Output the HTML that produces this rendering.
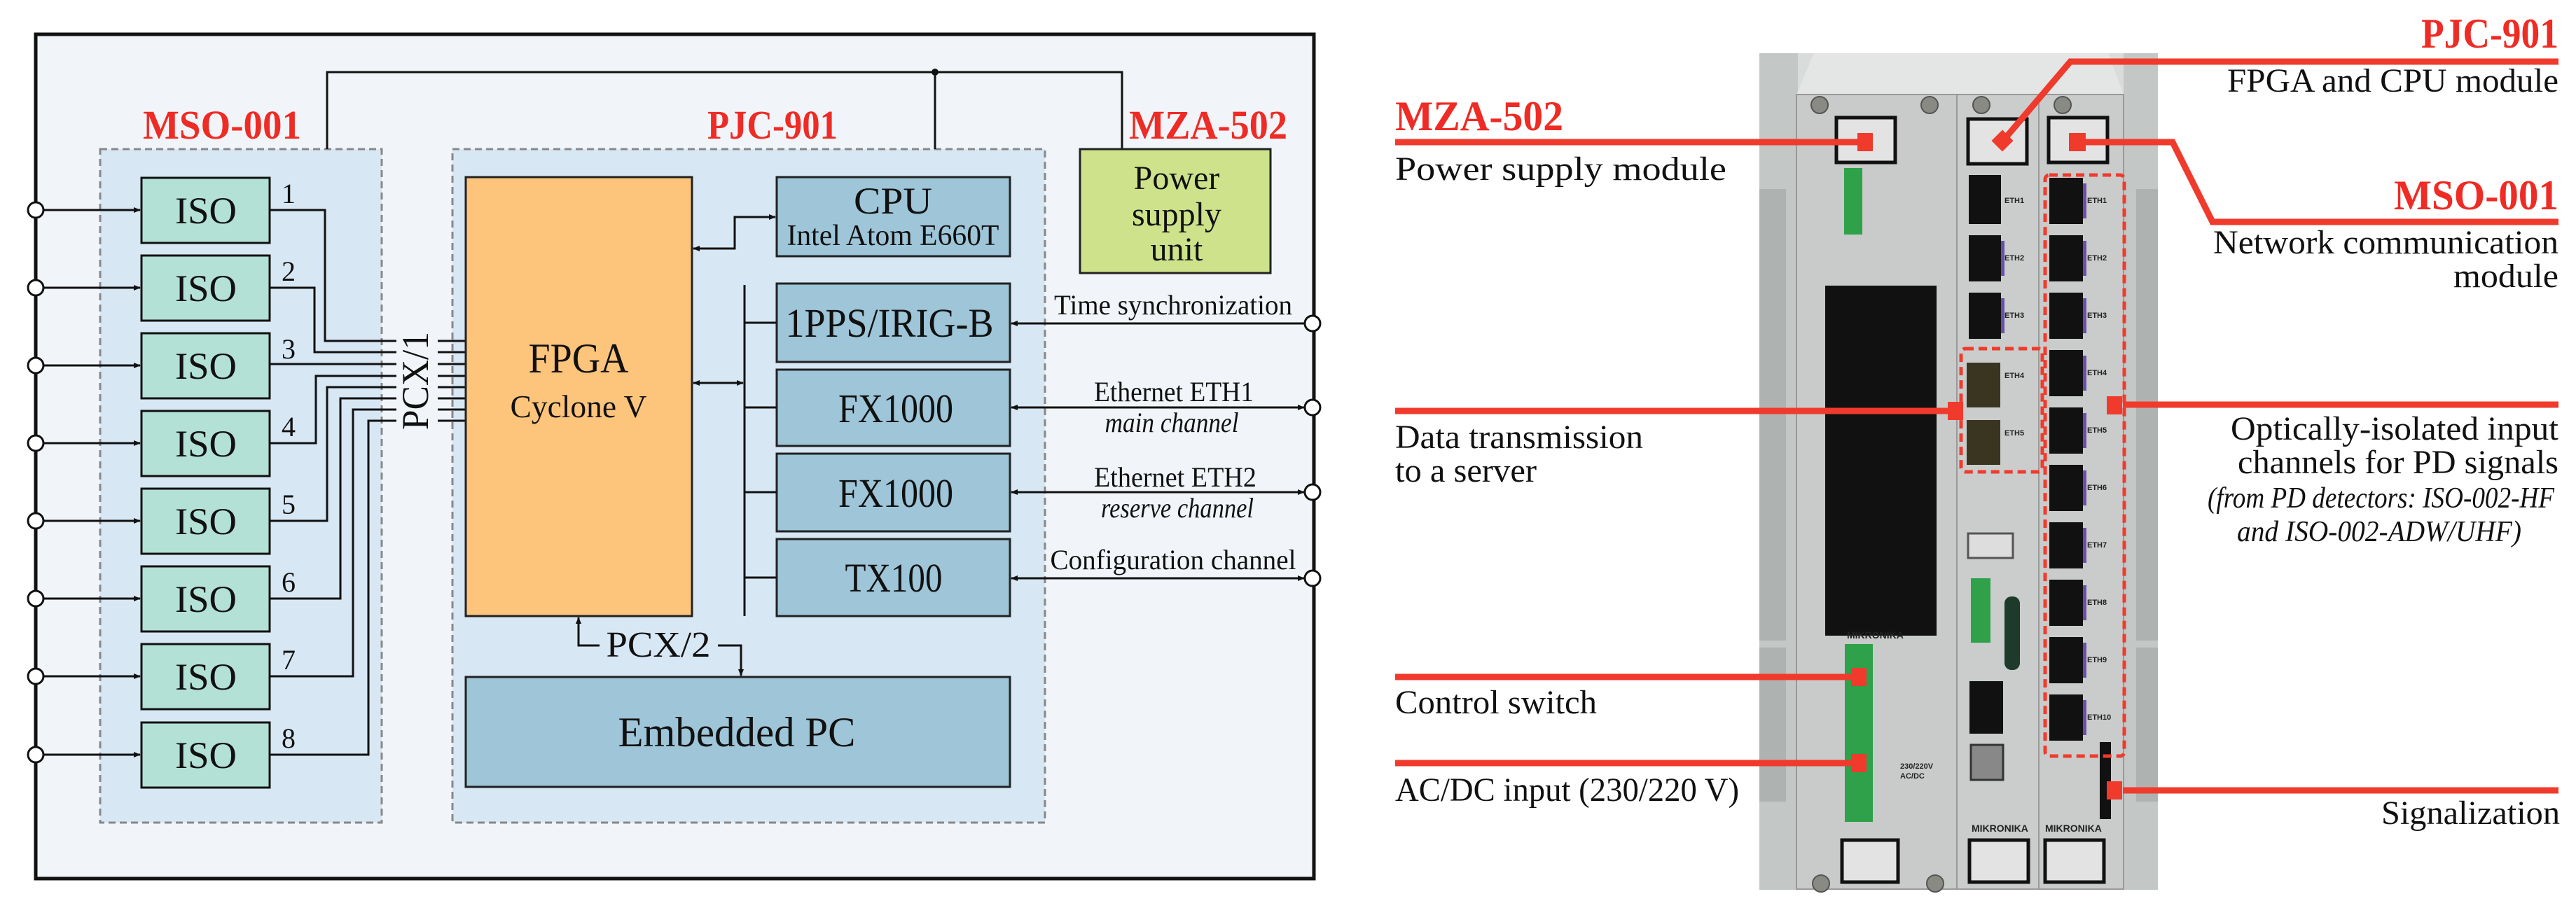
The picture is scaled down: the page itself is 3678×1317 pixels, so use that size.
<!DOCTYPE html>
<html><head><meta charset="utf-8"><style>
html,body{margin:0;padding:0;background:#fff;}
svg{display:block;}
text{font-family:"Liberation Serif",serif;fill:#111;}
.r{fill:#ee2b24;font-weight:bold;}
.s{font-family:"Liberation Sans",sans-serif;fill:#222;font-weight:bold;}
</style></head><body>
<svg width="3678" height="1317" viewBox="0 0 3678 1317" xmlns="http://www.w3.org/2000/svg">
<defs>
<marker id="a" markerWidth="10" markerHeight="8" refX="9" refY="4" orient="auto-start-reverse" markerUnits="userSpaceOnUse"><path d="M0,0 L10,4 L0,8 Z" fill="#111"/></marker>
<marker id="b" markerWidth="16" markerHeight="12" refX="15" refY="6" orient="auto-start-reverse" markerUnits="userSpaceOnUse"><path d="M0,0 L16,6 L0,12 Z" fill="#111"/></marker>
</defs>
<rect width="3678" height="1317" fill="#fff"/>
<!-- LEFT DIAGRAM -->
<rect x="51" y="49" width="1825" height="1206" fill="#f1f5f9" stroke="#111" stroke-width="5"/>
<rect x="143" y="213" width="402" height="962" fill="#d7e7f4" stroke="#888" stroke-width="3" stroke-dasharray="10,6"/>
<rect x="646" y="213" width="846" height="962" fill="#d7e7f4" stroke="#888" stroke-width="3" stroke-dasharray="10,6"/>
<g stroke="#111" stroke-width="3" fill="none">
<path d="M467,213 V103 H1602 V213"/><path d="M1335,103 V213"/>
</g>
<circle cx="1335" cy="103" r="5" fill="#111"/>
<rect x="1542" y="213" width="272" height="177" fill="#cde28a" stroke="#222" stroke-width="3"/>
<text x="1680" y="270" font-size="48" text-anchor="middle">Power</text>
<text x="1680" y="322" font-size="48" text-anchor="middle">supply</text>
<text x="1680" y="372" font-size="48" text-anchor="middle">unit</text>
<text class="r" x="317" y="198" font-size="58" text-anchor="middle" textLength="226" lengthAdjust="spacingAndGlyphs">MSO-001</text>
<text class="r" x="1103" y="198" font-size="58" text-anchor="middle" textLength="186" lengthAdjust="spacingAndGlyphs">PJC-901</text>
<text class="r" x="1725" y="198" font-size="58" text-anchor="middle" textLength="226" lengthAdjust="spacingAndGlyphs">MZA-502</text>
<!-- ISO rows -->
<g id="iso">
<g stroke="#111" stroke-width="3">
<rect x="202" y="254" width="183" height="93" fill="#b3e1d5"/>
<rect x="202" y="365" width="183" height="93" fill="#b3e1d5"/>
<rect x="202" y="476" width="183" height="93" fill="#b3e1d5"/>
<rect x="202" y="587" width="183" height="93" fill="#b3e1d5"/>
<rect x="202" y="698" width="183" height="93" fill="#b3e1d5"/>
<rect x="202" y="809" width="183" height="93" fill="#b3e1d5"/>
<rect x="202" y="920" width="183" height="93" fill="#b3e1d5"/>
<rect x="202" y="1032" width="183" height="93" fill="#b3e1d5"/>
</g>
<g font-size="54" text-anchor="middle">
<text x="294" y="319" textLength="88" lengthAdjust="spacingAndGlyphs">ISO</text>
<text x="294" y="430" textLength="88" lengthAdjust="spacingAndGlyphs">ISO</text>
<text x="294" y="541" textLength="88" lengthAdjust="spacingAndGlyphs">ISO</text>
<text x="294" y="652" textLength="88" lengthAdjust="spacingAndGlyphs">ISO</text>
<text x="294" y="763" textLength="88" lengthAdjust="spacingAndGlyphs">ISO</text>
<text x="294" y="874" textLength="88" lengthAdjust="spacingAndGlyphs">ISO</text>
<text x="294" y="985" textLength="88" lengthAdjust="spacingAndGlyphs">ISO</text>
<text x="294" y="1097" textLength="88" lengthAdjust="spacingAndGlyphs">ISO</text>
</g>
<g font-size="40">
<text x="402" y="290">1</text><text x="402" y="401">2</text><text x="402" y="512">3</text><text x="402" y="623">4</text>
<text x="402" y="734">5</text><text x="402" y="845">6</text><text x="402" y="956">7</text><text x="402" y="1068">8</text>
</g>
<g stroke="#111" stroke-width="3" marker-end="url(#a)">
<line x1="62" y1="300" x2="200" y2="300"/><line x1="62" y1="411" x2="200" y2="411"/>
<line x1="62" y1="522" x2="200" y2="522"/><line x1="62" y1="633" x2="200" y2="633"/>
<line x1="62" y1="744" x2="200" y2="744"/><line x1="62" y1="855" x2="200" y2="855"/>
<line x1="62" y1="966" x2="200" y2="966"/><line x1="62" y1="1078" x2="200" y2="1078"/>
</g>
<g fill="#fff" stroke="#111" stroke-width="3">
<circle cx="51" cy="300" r="11"/><circle cx="51" cy="411" r="11"/><circle cx="51" cy="522" r="11"/><circle cx="51" cy="633" r="11"/>
<circle cx="51" cy="744" r="11"/><circle cx="51" cy="855" r="11"/><circle cx="51" cy="966" r="11"/><circle cx="51" cy="1078" r="11"/>
</g>
</g>
<!-- wires -->
<g stroke="#111" stroke-width="3" fill="none">
<path d="M385,300 H464 V487 H566"/>
<path d="M385,411 H449 V503 H566"/>
<path d="M385,520 H566"/>
<path d="M385,633 H451 V537 H566"/>
<path d="M385,744 H467 V553 H566"/>
<path d="M385,855 H486 V569 H566"/>
<path d="M385,966 H504 V585 H566"/>
<path d="M385,1078 H526 V601 H566"/>
<path d="M625,487 H665 M625,503 H665 M625,520 H665 M625,537 H665 M625,553 H665 M625,569 H665 M625,585 H665 M625,601 H665"/>
</g>
<text transform="translate(611,544) rotate(-90)" font-size="54" text-anchor="middle" textLength="140" lengthAdjust="spacingAndGlyphs">PCX/1</text>
<!-- FPGA & blocks -->
<rect x="665" y="253" width="323" height="627" fill="#fdc47c" stroke="#222" stroke-width="3"/>
<text x="826" y="532" font-size="60" text-anchor="middle" textLength="143" lengthAdjust="spacingAndGlyphs">FPGA</text>
<text x="826" y="596" font-size="46" text-anchor="middle" textLength="195" lengthAdjust="spacingAndGlyphs">Cyclone V</text>
<g fill="#9ec5d8" stroke="#222" stroke-width="3">
<rect x="1109" y="253" width="333" height="113"/>
<rect x="1109" y="405" width="333" height="112"/>
<rect x="1109" y="528" width="333" height="109"/>
<rect x="1109" y="648" width="333" height="111"/>
<rect x="1109" y="770" width="333" height="110"/>
<rect x="665" y="967" width="777" height="157"/>
</g>
<text x="1275" y="305" font-size="54" text-anchor="middle" textLength="112" lengthAdjust="spacingAndGlyphs">CPU</text>
<text x="1275" y="350" font-size="42" text-anchor="middle" textLength="303" lengthAdjust="spacingAndGlyphs">Intel Atom E660T</text>
<text x="1270" y="481" font-size="58" text-anchor="middle" textLength="297" lengthAdjust="spacingAndGlyphs">1PPS/IRIG-B</text>
<text x="1279" y="603" font-size="58" text-anchor="middle" textLength="164" lengthAdjust="spacingAndGlyphs">FX1000</text>
<text x="1279" y="724" font-size="58" text-anchor="middle" textLength="164" lengthAdjust="spacingAndGlyphs">FX1000</text>
<text x="1276" y="845" font-size="58" text-anchor="middle" textLength="139" lengthAdjust="spacingAndGlyphs">TX100</text>
<text x="1052" y="1066" font-size="60" text-anchor="middle" textLength="339" lengthAdjust="spacingAndGlyphs">Embedded PC</text>
<g stroke="#111" stroke-width="3" fill="none">
<path d="M1063,407 V880"/>
<path d="M1063,461 H1109 M1063,582 H1109 M1063,703 H1109 M1063,825 H1109"/>
<path d="M990,355 H1049 V310 H1107" marker-start="url(#a)" marker-end="url(#a)"/>
<path d="M990,547 H1061" marker-start="url(#a)" marker-end="url(#a)"/>
<path d="M856,922 H826 V882" marker-end="url(#a)"/>
<path d="M1025,922 H1058 V965" marker-end="url(#a)"/>
<path d="M1444,462 H1862" marker-start="url(#a)"/>
<path d="M1444,582 H1862" marker-start="url(#a)" marker-end="url(#a)"/>
<path d="M1444,703 H1862" marker-start="url(#a)" marker-end="url(#a)"/>
<path d="M1444,826 H1862" marker-start="url(#a)" marker-end="url(#a)"/>
</g>
<text x="940" y="938" font-size="52" text-anchor="middle" textLength="149" lengthAdjust="spacingAndGlyphs">PCX/2</text>
<g fill="#fff" stroke="#111" stroke-width="3">
<circle cx="1874" cy="462" r="11"/><circle cx="1874" cy="582" r="11"/><circle cx="1874" cy="703" r="11"/><circle cx="1874" cy="826" r="11"/>
</g>
<g font-size="40" text-anchor="middle">
<text x="1675" y="449" textLength="340" lengthAdjust="spacingAndGlyphs">Time synchronization</text>
<text x="1676" y="573" textLength="228" lengthAdjust="spacingAndGlyphs">Ethernet ETH1</text>
<text x="1673" y="617" font-style="italic" textLength="191" lengthAdjust="spacingAndGlyphs">main channel</text>
<text x="1678" y="695" textLength="232" lengthAdjust="spacingAndGlyphs">Ethernet ETH2</text>
<text x="1681" y="739" font-style="italic" textLength="218" lengthAdjust="spacingAndGlyphs">reserve channel</text>
<text x="1675" y="813" textLength="351" lengthAdjust="spacingAndGlyphs">Configuration channel</text>
</g>

<!-- RIGHT PHOTO -->
<rect x="2512" y="76" width="569" height="1195" fill="#d9dcdb"/>
<rect x="2512" y="76" width="55" height="1195" fill="#c3c7c6"/>
<rect x="3032" y="76" width="49" height="1195" fill="#c3c7c6"/>
<rect x="2512" y="270" width="38" height="645" fill="#aeb3b2"/>
<rect x="2512" y="925" width="38" height="220" fill="#aeb3b2"/>
<rect x="3050" y="270" width="31" height="645" fill="#aeb3b2"/>
<rect x="3050" y="925" width="31" height="220" fill="#aeb3b2"/>
<polygon points="2565,135 2590,76 3010,76 3032,135" fill="#e4e6e5"/>
<rect x="2565" y="135" width="229" height="1135" fill="#c8cbca" stroke="#999" stroke-width="2"/>
<rect x="2794" y="135" width="117" height="1135" fill="#cacdcc" stroke="#999" stroke-width="2"/>
<rect x="2911" y="135" width="121" height="1135" fill="#c9cccb" stroke="#999" stroke-width="2"/>
<g fill="#8a8a84" stroke="#555" stroke-width="2">
<circle cx="2598" cy="150" r="12"/><circle cx="2755" cy="150" r="12"/><circle cx="2829" cy="150" r="12"/><circle cx="2945" cy="150" r="12"/>
<circle cx="2600" cy="1262" r="12"/><circle cx="2763" cy="1262" r="12"/>
</g>
<g fill="#e3e3e3" stroke="#111" stroke-width="5">
<rect x="2622" y="168" width="84" height="64"/><rect x="2810" y="170" width="84" height="64"/><rect x="2925" y="168" width="84" height="64"/>
<rect x="2630" y="1200" width="80" height="60"/><rect x="2812" y="1200" width="84" height="60"/><rect x="2920" y="1200" width="84" height="60"/>
</g>
<rect x="2633" y="240" width="26" height="95" fill="#2fa14a"/>
<rect x="2634" y="920" width="40" height="254" fill="#2fa14a"/>
<rect x="2814" y="826" width="28" height="92" fill="#2fa14a"/>
<rect x="2862" y="852" width="22" height="105" rx="10" fill="#1d3a2a"/>
<rect x="2812" y="973" width="48" height="75" fill="#111"/>
<rect x="2814" y="1064" width="46" height="50" fill="#888" stroke="#333" stroke-width="3"/>
<rect x="2810" y="762" width="64" height="35" fill="#ddd" stroke="#555" stroke-width="3"/>
<rect x="2606" y="408" width="159" height="500" fill="#111"/>
<g fill="#111">
<rect x="2811" y="250" width="46" height="70"/>
<rect x="2811" y="336" width="46" height="66"/>
<rect x="2811" y="418" width="46" height="66"/>
<rect x="2808" y="518" width="48" height="64" fill="#3a3520"/>
<rect x="2808" y="600" width="48" height="64" fill="#3a3520"/>
<rect x="2926" y="254" width="48" height="66"/><rect x="2926" y="336" width="48" height="66"/>
<rect x="2926" y="418" width="48" height="66"/><rect x="2926" y="500" width="48" height="66"/>
<rect x="2926" y="582" width="48" height="66"/><rect x="2926" y="664" width="48" height="66"/>
<rect x="2926" y="746" width="48" height="66"/><rect x="2926" y="828" width="48" height="66"/>
<rect x="2926" y="910" width="48" height="66"/><rect x="2926" y="992" width="48" height="66"/>
<rect x="2998" y="1060" width="16" height="110"/>
</g>
<g fill="#6a4fa8">
<rect x="2974" y="262" width="5" height="50"/><rect x="2974" y="344" width="5" height="50"/><rect x="2974" y="426" width="5" height="50"/>
<rect x="2974" y="508" width="5" height="50"/><rect x="2974" y="590" width="5" height="50"/><rect x="2974" y="672" width="5" height="50"/>
<rect x="2974" y="754" width="5" height="50"/><rect x="2974" y="836" width="5" height="50"/><rect x="2974" y="918" width="5" height="50"/>
<rect x="2974" y="1000" width="5" height="50"/><rect x="2857" y="344" width="5" height="50"/><rect x="2857" y="426" width="5" height="50"/>
</g>
<g class="s" font-size="11">
<text x="2980" y="290" class="s">ETH1</text><text x="2980" y="372" class="s">ETH2</text><text x="2980" y="454" class="s">ETH3</text>
<text x="2980" y="536" class="s">ETH4</text><text x="2980" y="618" class="s">ETH5</text><text x="2980" y="700" class="s">ETH6</text>
<text x="2980" y="782" class="s">ETH7</text><text x="2980" y="864" class="s">ETH8</text><text x="2980" y="946" class="s">ETH9</text>
<text x="2980" y="1028" class="s">ETH10</text>
<text x="2862" y="290" class="s">ETH1</text><text x="2862" y="372" class="s">ETH2</text><text x="2862" y="454" class="s">ETH3</text>
<text x="2862" y="540" class="s">ETH4</text><text x="2862" y="622" class="s">ETH5</text>
<text x="2815" y="1188" class="s" font-size="14">MIKRONIKA</text><text x="2920" y="1188" class="s" font-size="14">MIKRONIKA</text>
<text x="2637" y="912" class="s" font-size="14">MIKRONIKA</text>
<text x="2713" y="1098" class="s">230/220V</text><text x="2713" y="1112" class="s">AC/DC</text>
</g>
<g fill="none" stroke="#f03a2c" stroke-width="5" stroke-dasharray="12,7">
<rect x="2920" y="250" width="113" height="830" rx="6"/>
<rect x="2800" y="498" width="116" height="176" rx="6"/>
</g>
<!-- red callouts -->
<g stroke="#f03a2c" stroke-width="9" fill="none">
<path d="M1992,203 H2672"/>
<path d="M3653,88 H2956 L2860,201"/>
<path d="M2970,203 H3102 L3159,317 H3653"/>
<path d="M1992,587 H2796"/>
<path d="M3031,578 H3653"/>
<path d="M1992,967 H2660"/>
<path d="M1992,1090 H2660"/>
<path d="M3031,1129 H3653"/>
</g>
<g fill="#f03a2c">
<rect x="2652" y="190" width="22" height="26"/>
<rect x="2848" y="190" width="22" height="22" transform="rotate(45 2859 201)"/>
<rect x="2954" y="190" width="24" height="26"/>
<rect x="2781" y="574" width="22" height="26"/>
<rect x="3008" y="566" width="22" height="26"/>
<rect x="2643" y="954" width="22" height="26"/>
<rect x="2643" y="1077" width="22" height="26"/>
<rect x="3008" y="1116" width="22" height="26"/>
</g>
<text class="r" x="1992" y="186" font-size="60" textLength="240" lengthAdjust="spacingAndGlyphs">MZA-502</text>
<text x="1992" y="257" font-size="48" textLength="473" lengthAdjust="spacingAndGlyphs">Power supply module</text>
<text class="r" x="3653" y="68" font-size="60" text-anchor="end" textLength="196" lengthAdjust="spacingAndGlyphs">PJC-901</text>
<text x="3653" y="131" font-size="48" text-anchor="end" textLength="473" lengthAdjust="spacingAndGlyphs">FPGA and CPU module</text>
<text class="r" x="3653" y="299" font-size="60" text-anchor="end" textLength="235" lengthAdjust="spacingAndGlyphs">MSO-001</text>
<text x="3653" y="362" font-size="48" text-anchor="end" textLength="493" lengthAdjust="spacingAndGlyphs">Network communication</text>
<text x="3653" y="410" font-size="48" text-anchor="end" textLength="150" lengthAdjust="spacingAndGlyphs">module</text>
<text x="1992" y="640" font-size="48" textLength="354" lengthAdjust="spacingAndGlyphs">Data transmission</text>
<text x="1992" y="688" font-size="48" textLength="202" lengthAdjust="spacingAndGlyphs">to a server</text>
<text x="3653" y="628" font-size="48" text-anchor="end" textLength="468" lengthAdjust="spacingAndGlyphs">Optically-isolated input</text>
<text x="3653" y="676" font-size="48" text-anchor="end" textLength="458" lengthAdjust="spacingAndGlyphs">channels for PD signals</text>
<text x="3647" y="725" font-size="42" font-style="italic" text-anchor="end" textLength="495" lengthAdjust="spacingAndGlyphs">(from PD detectors: ISO-002-HF</text>
<text x="3600" y="773" font-size="42" font-style="italic" text-anchor="end" textLength="406" lengthAdjust="spacingAndGlyphs">and ISO-002-ADW/UHF)</text>
<text x="1992" y="1019" font-size="48" textLength="288" lengthAdjust="spacingAndGlyphs">Control switch</text>
<text x="1992" y="1144" font-size="48" textLength="491" lengthAdjust="spacingAndGlyphs">AC/DC input (230/220 V)</text>
<text x="3655" y="1177" font-size="48" text-anchor="end" textLength="255" lengthAdjust="spacingAndGlyphs">Signalization</text>
</svg>
</body></html>
